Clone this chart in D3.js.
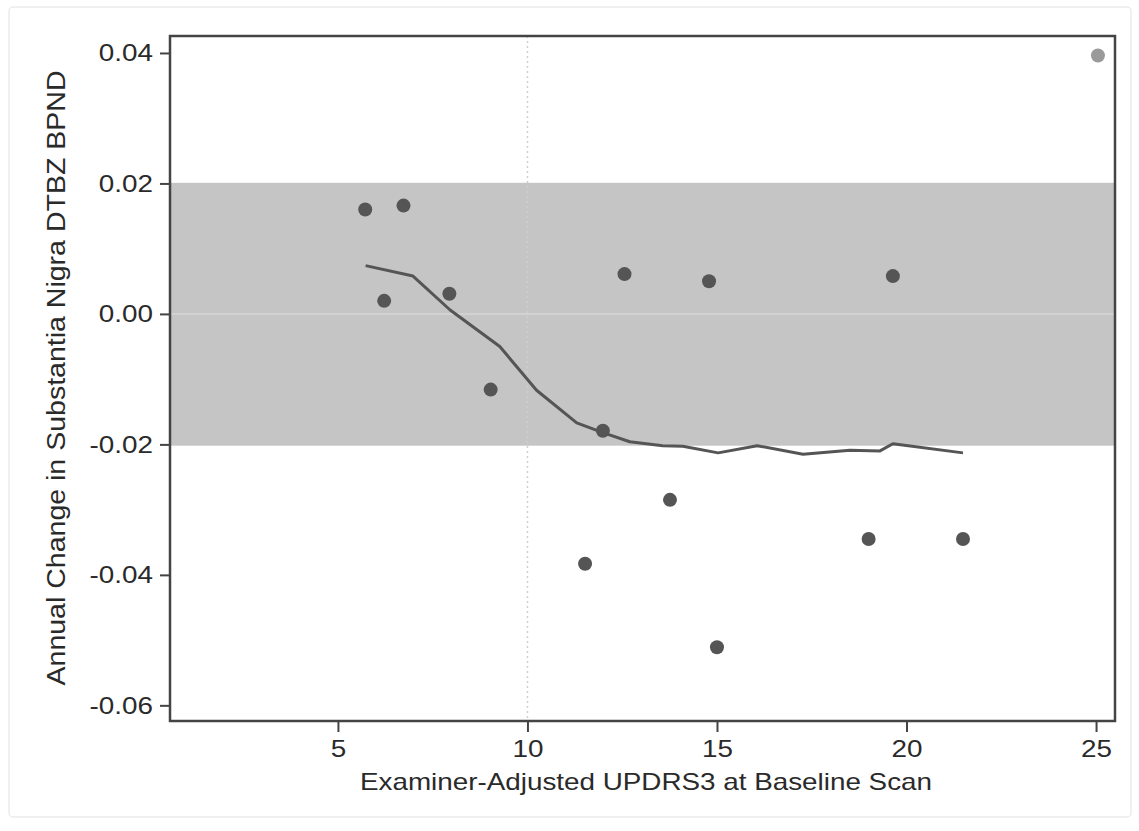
<!DOCTYPE html>
<html>
<head>
<meta charset="utf-8">
<script src="https://cdn.jsdelivr.net/npm/d3@7"></script>
<style>
  body { margin: 0; background: #fff; }
  text { font-family: "Liberation Sans", Arial, sans-serif; fill: #2a2a2a; }
</style>
</head>
<body>
<div id="graph"></div>
<script>
// data
var ptX = [5.72, 6.73, 6.22, 7.94, 9.03, 11.99, 12.56, 14.79, 11.52, 13.76, 15.0, 19.0, 19.64, 21.49];
var ptY = [0.0160, 0.0166, 0.0020, 0.0031, -0.0116, -0.0179, 0.0061, 0.0050, -0.0383, -0.0285, -0.0511, -0.0345, 0.0058, -0.0345];
var outX = [25.05];
var outY = [0.0396];
var fitX = [5.73, 6.98, 7.96, 9.27, 10.24, 11.30, 11.99, 12.70, 13.57, 14.10, 15.03, 16.06, 17.27, 18.51, 19.30, 19.64, 21.49];
var fitY = [0.0074, 0.0058, 0.0006, -0.0050, -0.0117, -0.0167, -0.0182, -0.0196, -0.0202, -0.0203, -0.0213, -0.0202, -0.0215, -0.0209, -0.0210, -0.0199, -0.0213];
var band = [-0.0202, 0.0201];
var xTicks = [5, 10, 15, 20, 25];
var yTicks = [-0.06, -0.04, -0.02, 0.00, 0.02, 0.04];

var width = 1139, height = 831;
var mLeft = 170, mRight = 1115, mTop = 36, mBottom = 721;
var stretch = 1.16; // the picture's text is a bit wide

var svg = d3.select("#graph").append("svg").attr("width", width).attr("height", height);

// faint outer border
svg.append("rect").attr("x", 9).attr("y", 7).attr("width", 1122).attr("height", 810)
  .attr("rx", 4).attr("fill", "none").attr("stroke", "#ececec").attr("stroke-width", 1.5);

var x = d3.scaleLinear().domain([0.57, 25.5]).range([mLeft, mRight]);
var y = d3.scaleLinear().domain([-0.0624, 0.0426]).range([mBottom, mTop]);

// shaded band
svg.append("rect")
  .attr("x", mLeft).attr("width", mRight - mLeft)
  .attr("y", y(band[1])).attr("height", y(band[0]) - y(band[1]))
  .attr("fill", "#c5c5c5");

// faint zero line
svg.append("line").attr("x1", mLeft).attr("x2", mRight).attr("y1", y(0)).attr("y2", y(0))
  .attr("stroke", "#d6d6d6").attr("stroke-width", 1.5);

// dotted line at 10
svg.append("line").attr("x1", x(10)).attr("x2", x(10)).attr("y1", mTop).attr("y2", mBottom)
  .attr("stroke", "#cfcfcf").attr("stroke-width", 1.5).attr("stroke-dasharray", "2,3");

// fitted line
var line = d3.line().x(function(d){ return x(d[0]); }).y(function(d){ return y(d[1]); });
svg.append("path").datum(d3.zip(fitX, fitY)).attr("d", line)
  .attr("fill", "none").attr("stroke", "#555").attr("stroke-width", 3)
  .attr("stroke-linejoin", "round");

// points
svg.append("g").selectAll("circle").data(d3.zip(ptX, ptY)).enter().append("circle")
  .attr("cx", function(d){ return x(d[0]); })
  .attr("cy", function(d){ return y(d[1]); })
  .attr("r", 7).attr("fill", "#555");

svg.append("g").selectAll("circle").data(d3.zip(outX, outY)).enter().append("circle")
  .attr("cx", function(d){ return x(d[0]); })
  .attr("cy", function(d){ return y(d[1]); })
  .attr("r", 7).attr("fill", "#9a9a9a");

// axes
var fmtY = function(d){ return d3.format(".2f")(d).replace("\u2212", "-"); };
var gx = svg.append("g").attr("transform", "translate(0," + mBottom + ")")
  .call(d3.axisBottom(x).tickValues(xTicks).tickSize(11).tickPadding(8).tickFormat(d3.format("d")));
var gy = svg.append("g").attr("transform", "translate(" + mLeft + ",0)")
  .call(d3.axisLeft(y).tickValues(yTicks).tickSize(10).tickPadding(7).tickFormat(fmtY));
[gx, gy].forEach(function(g){
  g.select(".domain").remove();
  g.selectAll(".tick line").attr("stroke", "#444").attr("stroke-width", 2);
  g.selectAll(".tick text").attr("font-size", 24).attr("fill", "#2a2a2a")
    .style("font-family", "'Liberation Sans', Arial, sans-serif")
    .each(function(){
      var w = this.getComputedTextLength();
      d3.select(this).attr("textLength", w * stretch).attr("lengthAdjust", "spacingAndGlyphs");
    });
});

// frame
svg.append("rect").attr("x", mLeft).attr("y", mTop).attr("width", mRight - mLeft).attr("height", mBottom - mTop)
  .attr("fill", "none").attr("stroke", "#444").attr("stroke-width", 2.5);

// titles
svg.append("text").attr("x", 646).attr("y", 790)
  .attr("text-anchor", "middle").attr("font-size", 24)
  .attr("textLength", 572).attr("lengthAdjust", "spacingAndGlyphs")
  .text("Examiner-Adjusted UPDRS3 at Baseline Scan");
svg.append("text").attr("transform", "translate(65,378) rotate(-90)")
  .attr("text-anchor", "middle").attr("font-size", 25)
  .attr("textLength", 615).attr("lengthAdjust", "spacingAndGlyphs")
  .text("Annual Change in Substantia Nigra DTBZ BPND");
</script>
</body>
</html>
